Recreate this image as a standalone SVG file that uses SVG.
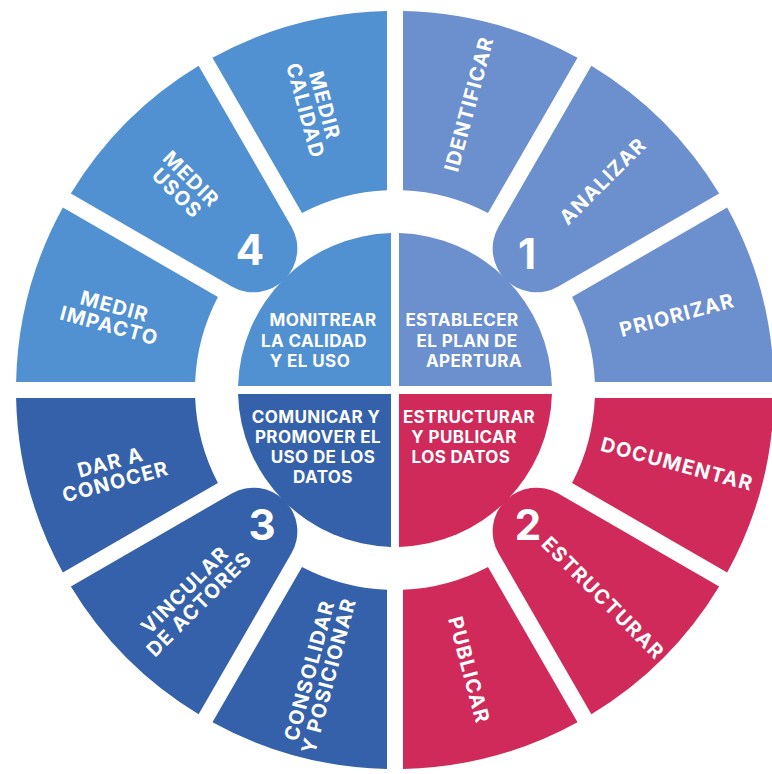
<svg xmlns="http://www.w3.org/2000/svg" width="772" height="774" viewBox="0 0 772 774">
  <style>
    .q1 { fill: #6c8fcd; }
    .q2 { fill: #cf2a5a; }
    .q3 { fill: #3461a9; }
    .q4 { fill: #5190d1; }
    text { font-family: Inter, "Liberation Sans", sans-serif; font-weight: 700; fill: #ffffff; }
    .lbl { font-size: 20px; letter-spacing: 1.2px; text-anchor: middle; }
    .in { font-size: 17px; letter-spacing: 0.4px; text-anchor: middle; }
    .num { font-size: 42px; text-anchor: middle; }
  </style>
  <rect width="772" height="774" fill="#ffffff"/>

  <!-- Phase 1 : top-right -->
  <g id="priorizar">
    <path class="q1" d="M 773.916 382 A 379 379 0 0 0 727.150 207.470 L 572.066 297.008 A 200 200 0 0 1 594.84 382 Z"/>
    <text class="lbl" transform="translate(677,315) rotate(-15)" y="7">PRIORIZAR</text>
  </g>
  <g id="analizar">
    <path class="q1" d="M 719.150 193.614 A 379 379 0 0 0 591.386 65.850 L 498.520 226.697 A 43.764 43.764 0 0 0 558.303 286.480 Z"/>
    <text class="lbl" transform="translate(603,181) rotate(-45)" y="7">ANALIZAR</text>
    <text class="num" x="527" y="269">1</text>
  </g>
  <g id="identificar">
    <path class="q1" d="M 577.530 57.850 A 379 379 0 0 0 403 11.084 L 403 190.16 A 200 200 0 0 1 487.992 212.934 Z"/>
    <text class="lbl" transform="translate(469,104) rotate(-75)" y="7">IDENTIFICAR</text>
  </g>

  <!-- Phase 2 : bottom-right -->
  <g id="documentar">
    <path class="q2" d="M 773.916 398 A 379 379 0 0 1 727.150 572.530 L 572.066 482.992 A 200 200 0 0 0 594.84 398 Z"/>
    <text class="lbl" transform="translate(677,464) rotate(15)" y="7">DOCUMENTAR</text>
  </g>
  <g id="estructurar">
    <path class="q2" d="M 719.150 586.386 A 379 379 0 0 1 591.386 714.150 L 498.520 553.303 A 43.764 43.764 0 0 1 558.303 493.520 Z"/>
    <text class="lbl" transform="translate(603,598) rotate(45)" y="7">ESTRUCTURAR</text>
    <text class="num" x="528" y="540">2</text>
  </g>
  <g id="publicar">
    <path class="q2" d="M 577.530 722.150 A 379 379 0 0 1 403 768.916 L 403 589.84 A 200 200 0 0 0 487.992 567.066 Z"/>
    <text class="lbl" transform="translate(469,670) rotate(75)" y="7">PUBLICAR</text>
  </g>

  <!-- Phase 3 : bottom-left -->
  <g id="dar-a-conocer">
    <path class="q3" d="M 16.084 398 A 379 379 0 0 0 62.850 572.530 L 217.934 482.992 A 200 200 0 0 1 195.16 398 Z"/>
    <text class="lbl" transform="translate(113,472) rotate(-15)"><tspan x="0" y="-3">DAR A</tspan><tspan x="0" y="17">CONOCER</tspan></text>
  </g>
  <g id="vincular-actores">
    <path class="q3" d="M 70.850 586.386 A 379 379 0 0 0 198.614 714.150 L 291.480 553.303 A 43.764 43.764 0 0 0 231.697 493.520 Z"/>
    <text class="lbl" transform="translate(192,597) rotate(-45)"><tspan x="0" y="-3">VINCULAR</tspan><tspan x="0" y="17">DE ACTORES</tspan></text>
    <text class="num" x="262" y="540">3</text>
  </g>
  <g id="consolidar">
    <path class="q3" d="M 212.470 722.150 A 379 379 0 0 0 387 768.916 L 387 589.84 A 200 200 0 0 1 302.008 567.066 Z"/>
    <text class="lbl" transform="translate(319,673) rotate(-75)"><tspan x="0" y="-3">CONSOLIDAR</tspan><tspan x="0" y="17">Y POSICIONAR</tspan></text>
  </g>

  <!-- Phase 4 : top-left -->
  <g id="medir-impacto">
    <path class="q4" d="M 16.084 382 A 379 379 0 0 1 62.850 207.470 L 217.934 297.008 A 200 200 0 0 0 195.16 382 Z"/>
    <text class="lbl" transform="translate(112,316) rotate(15)"><tspan x="0" y="-3">MEDIR</tspan><tspan x="0" y="17">IMPACTO</tspan></text>
  </g>
  <g id="medir-usos">
    <path class="q4" d="M 70.850 193.614 A 379 379 0 0 1 198.614 65.850 L 291.480 226.697 A 43.764 43.764 0 0 1 231.697 286.480 Z"/>
    <text class="lbl" transform="translate(184,186) rotate(45)"><tspan x="0" y="-3">MEDIR</tspan><tspan x="0" y="17">USOS</tspan></text>
    <text class="num" x="250" y="265">4</text>
  </g>
  <g id="medir-calidad">
    <path class="q4" d="M 212.470 57.850 A 379 379 0 0 1 387 11.084 L 387 190.16 A 200 200 0 0 0 302.008 212.934 Z"/>
    <text class="lbl" transform="translate(315,108) rotate(75)"><tspan x="0" y="-3">MEDIR</tspan><tspan x="0" y="17">CALIDAD</tspan></text>
  </g>

  <!-- Inner quadrants -->
  <g id="establecer-plan">
    <path class="q1" d="M 399 386 L 399 233.051 A 157 157 0 0 1 551.949 386 Z"/>
    <text class="in"><tspan x="462" y="326">ESTABLECER</tspan><tspan x="467" y="347">EL PLAN DE</tspan><tspan x="474" y="367">APERTURA</tspan></text>
  </g>
  <g id="estructurar-publicar">
    <path class="q2" d="M 399 394 L 551.949 394 A 157 157 0 0 1 399 546.949 Z"/>
    <text class="in"><tspan x="469" y="423">ESTRUCTURAR</tspan><tspan x="464" y="443">Y PUBLICAR</tspan><tspan x="461" y="463">LOS DATOS</tspan></text>
  </g>
  <g id="comunicar-promover">
    <path class="q3" d="M 391 394 L 391 546.949 A 157 157 0 0 1 238.051 394 Z"/>
    <text class="in"><tspan x="316" y="423">COMUNICAR Y</tspan><tspan x="318" y="443">PROMOVER EL</tspan><tspan x="323" y="463">USO DE LOS</tspan><tspan x="323" y="483">DATOS</tspan></text>
  </g>
  <g id="monitrear">
    <path class="q4" d="M 391 386 L 238.051 386 A 157 157 0 0 1 391 233.051 Z"/>
    <text class="in"><tspan x="323" y="326">MONITREAR</tspan><tspan x="314" y="347">LA CALIDAD</tspan><tspan x="310" y="367">Y EL USO</tspan></text>
  </g>

  <g id="connectors"></g>
</svg>
